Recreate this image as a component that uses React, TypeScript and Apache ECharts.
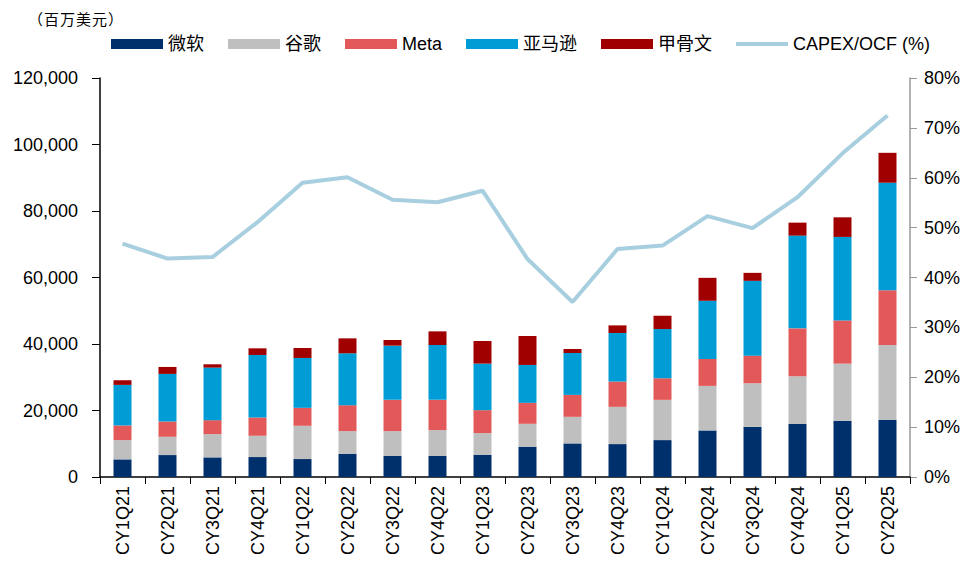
import React, { useEffect, useRef } from "react";
import * as echarts from "echarts";

const categories = [
  "CY1Q21", "CY2Q21", "CY3Q21", "CY4Q21", "CY1Q22", "CY2Q22", "CY3Q22", "CY4Q22", "CY1Q23",
  "CY2Q23", "CY3Q23", "CY4Q23", "CY1Q24", "CY2Q24", "CY3Q24", "CY4Q24", "CY1Q25", "CY2Q25",
];
const microsoft = [5300, 6600, 5900, 6000, 5400, 7000, 6400, 6400, 6700, 9100, 10100, 9900, 11100, 14000, 15100, 16000, 16900, 17200];
const google = [5800, 5500, 7000, 6400, 10000, 6800, 7400, 7700, 6500, 6900, 8000, 11200, 12100, 13400, 13100, 14300, 17200, 22500];
const meta = [4400, 4600, 4200, 5500, 5400, 7800, 9400, 9100, 6900, 6300, 6600, 7600, 6500, 8100, 8300, 14400, 13000, 16500];
const amazon = [12200, 14300, 15800, 18800, 15000, 15600, 16300, 16500, 14000, 11400, 12600, 14600, 14800, 17500, 22500, 27900, 25100, 32300];
const oracle = [1400, 2100, 1000, 2000, 3000, 4500, 1700, 4100, 6800, 8700, 1200, 2300, 4000, 6900, 2400, 3900, 5900, 9000];
const capexOcf = [46.8, 43.8, 44.1, 51.1, 59.0, 60.1, 55.6, 55.1, 57.4, 43.7, 35.1, 45.7, 46.4, 52.3, 49.9, 56.1, 64.9, 72.5];
const unitTitle = "（百万美元）";

const FONT = "'Liberation Sans', Arial, 'Noto Sans CJK SC', sans-serif";
const CJK = "'Noto Sans CJK SC', sans-serif";
const LINE_ICON = "path://M0,0 L100,0 L100,8 L0,8 Z";

export default function App() {
  const ref = useRef<HTMLDivElement>(null);
  useEffect(() => {
    if (!ref.current) return;
    const chart = echarts.init(ref.current, undefined, { renderer: "svg" });
    const barSeries = (name: string, data: number[], color: string) => ({
      name,
      type: "bar",
      stack: "capex",
      data,
      barWidth: 18,
      itemStyle: { color },
    });
    const titleChars = Array.from(unitTitle).map((ch, i) => ({
      type: "text",
      x: 28 + i * 16,
      y: 18,
      style: { text: ch, fontSize: 15, fill: "#000", fontFamily: CJK, verticalAlign: "middle", align: "left" },
    }));
    chart.setOption({
      animation: false,
      textStyle: { fontFamily: FONT },
      graphic: [{ type: "group", children: titleChars }],
      legend: {
        left: 111,
        top: 35,
        padding: 0,
        icon: "rect",
        itemWidth: 52,
        itemHeight: 10,
        itemGap: 24,
        textStyle: { fontSize: 18, color: "#000", fontFamily: FONT },
        data: [
          "微软",
          "谷歌",
          "Meta",
          "亚马逊",
          "甲骨文",
          { name: "CAPEX/OCF (%)", icon: LINE_ICON },
        ],
      },
      grid: { left: 100, right: 56, top: 78, bottom: 85, containLabel: false },
      xAxis: {
        type: "category",
        data: categories,
        axisLine: { lineStyle: { color: "#000", width: 1.5 } },
        axisTick: { show: true, length: 7, lineStyle: { color: "#000" } },
        axisLabel: { rotate: 90, fontSize: 18, color: "#000", margin: 9, fontFamily: FONT },
      },
      yAxis: [
        {
          type: "value",
          min: 0,
          max: 120000,
          interval: 20000,
          axisLine: { show: true, lineStyle: { color: "#000", width: 1.5 } },
          axisTick: { show: true, length: 8, lineStyle: { color: "#000" } },
          splitLine: { show: false },
          axisLabel: {
            fontSize: 18,
            color: "#000",
            margin: 22,
            fontFamily: FONT,
            formatter: (v: number) => v.toLocaleString("en-US"),
          },
        },
        {
          type: "value",
          min: 0,
          max: 80,
          interval: 10,
          position: "right",
          axisLine: { show: true, lineStyle: { color: "#999", width: 1.5 } },
          axisTick: { show: true, length: 7, lineStyle: { color: "#999" } },
          splitLine: { show: false },
          axisLabel: { fontSize: 18, color: "#000", margin: 14, fontFamily: FONT, formatter: "{value}%" },
        },
      ],
      series: [
        barSeries("微软", microsoft, "#00306B"),
        barSeries("谷歌", google, "#BFBFBF"),
        barSeries("Meta", meta, "#E35959"),
        barSeries("亚马逊", amazon, "#009CD5"),
        barSeries("甲骨文", oracle, "#A00000"),
        {
          name: "CAPEX/OCF (%)",
          type: "line",
          yAxisIndex: 1,
          data: capexOcf,
          symbol: "none",
          z: 5,
          lineStyle: { color: "#A8CFDF", width: 4 },
          itemStyle: { color: "#A8CFDF" },
        },
      ],
    });
    return () => chart.dispose();
  }, []);
  return (
    <div
      ref={ref}
      style={{ position: "fixed", left: 0, top: 0, width: 966, height: 562, background: "#fff" }}
    />
  );
}
